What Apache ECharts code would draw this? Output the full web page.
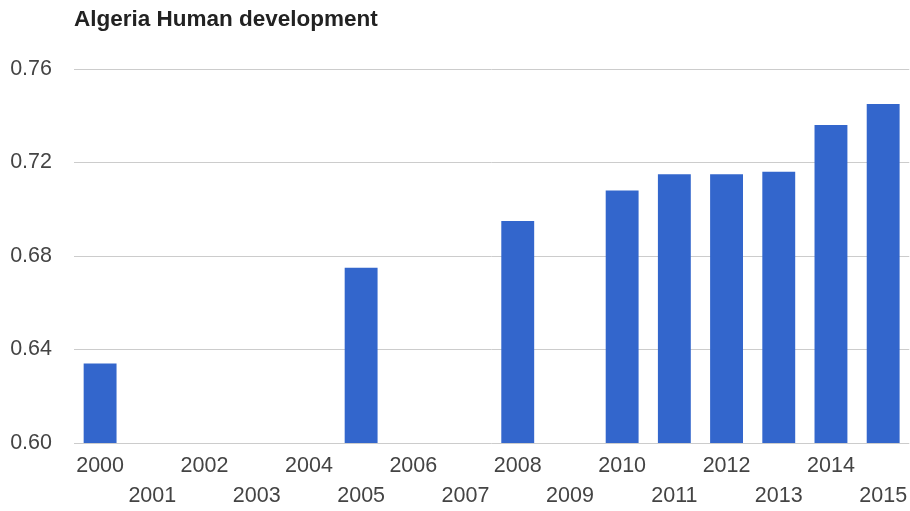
<!DOCTYPE html>
<html>
<head>
<meta charset="utf-8">
<script src="https://cdn.jsdelivr.net/npm/echarts@6/dist/echarts.min.js"></script>
<style>html,body{margin:0;padding:0;background:#fff}#c{width:910px;height:511px}</style>
</head>
<body>
<div id="c"></div>
<script>
const titleText = 'Algeria Human development';
const years = ['2000','2001','2002','2003','2004','2005','2006','2007','2008','2009','2010','2011','2012','2013','2014','2015'];
const hdi = [0.634, null, null, null, null, 0.675, null, null, 0.695, null, 0.708, 0.715, 0.715, 0.716, 0.736, 0.745];
const yMin = 0.60, yMax = 0.76, yStep = 0.04;

const chart = echarts.init(document.getElementById('c'), null, {renderer: 'canvas'});
chart.setOption({
  animation: false,
  backgroundColor: '#ffffff',
  title: {
    text: titleText,
    left: 74, top: 8, padding: 0,
    textStyle: {fontFamily: 'Liberation Sans, Arial, sans-serif', fontWeight: 'bold', fontSize: 22.5, color: '#222'}
  },
  grid: {left: 74, top: 69, width: 838, bottom: 68, containLabel: false},
  xAxis: {
    type: 'category',
    data: years,
    axisLine: {show: false},
    axisTick: {show: false},
    axisLabel: {
      interval: 0,
      margin: 8,
      fontFamily: 'Liberation Sans, Arial, sans-serif',
      fontSize: 21.5,
      color: '#444',
      lineHeight: 30,
      formatter: (v, i) => (i % 2 ? '\n' + v : v)
    }
  },
  yAxis: {
    type: 'value',
    min: yMin, max: yMax, interval: yStep,
    axisLine: {show: false},
    axisTick: {show: false},
    splitLine: {lineStyle: {color: '#cccccc', width: 1}},
    axisLabel: {
      margin: 22,
      fontFamily: 'Liberation Sans, Arial, sans-serif',
      fontSize: 21.5,
      color: '#444',
      formatter: v => v.toFixed(2)
    }
  },
  series: [{
    type: 'bar',
    data: hdi,
    barWidth: '63%',
    itemStyle: {color: '#3366cc'}
  }]
});
</script>
</body>
</html>
